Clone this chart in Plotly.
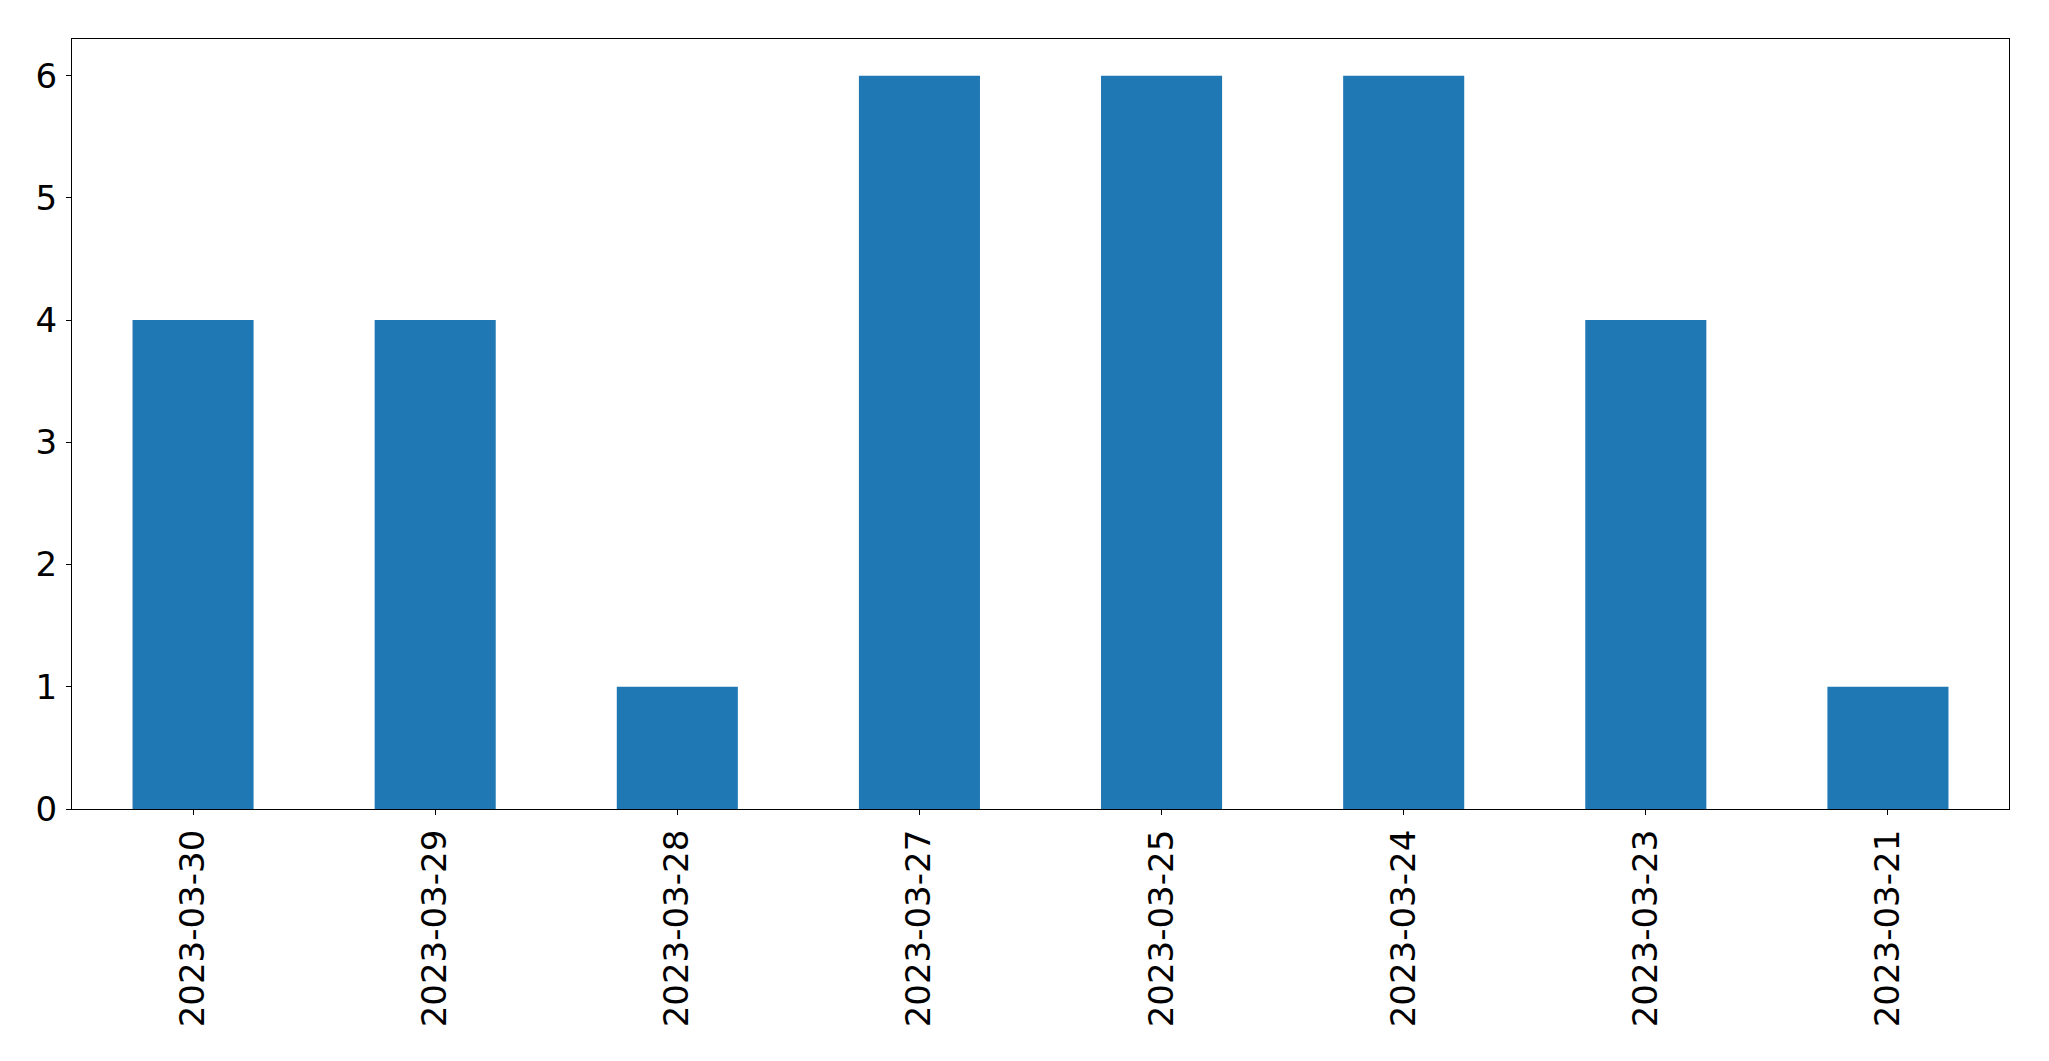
import plotly.graph_objects as go

dates = ["2023-03-30", "2023-03-29", "2023-03-28", "2023-03-27",
         "2023-03-25", "2023-03-24", "2023-03-23", "2023-03-21"]
counts = [4, 4, 1, 6, 6, 6, 4, 1]
y_ticks = [0, 1, 2, 3, 4, 5, 6]

fig = go.Figure(go.Bar(x=dates, y=counts, marker_color="#1f77b4",
                       marker_line_width=0, width=0.5))

axis_common = dict(showline=True, linecolor="black", linewidth=1.3, mirror=True,
                   ticks="outside", ticklen=5, tickwidth=1.3, tickcolor="black",
                   showgrid=False, zeroline=False, automargin=False,
                   tickfont=dict(family="DejaVu Sans", size=34, color="black"))

fig.update_layout(
    width=2041, height=1053,
    margin=dict(l=64, r=40, t=31, b=252),
    plot_bgcolor="white", paper_bgcolor="white",
    showlegend=False,
    xaxis=dict(type="category", range=[-0.5, 7.5], tickangle=-90,
               ticklabelstandoff=1, **axis_common),
    yaxis=dict(range=[0, 6.3], tickvals=y_ticks, ticklabelstandoff=2, **axis_common),
)

fig.write_html("out.html")
